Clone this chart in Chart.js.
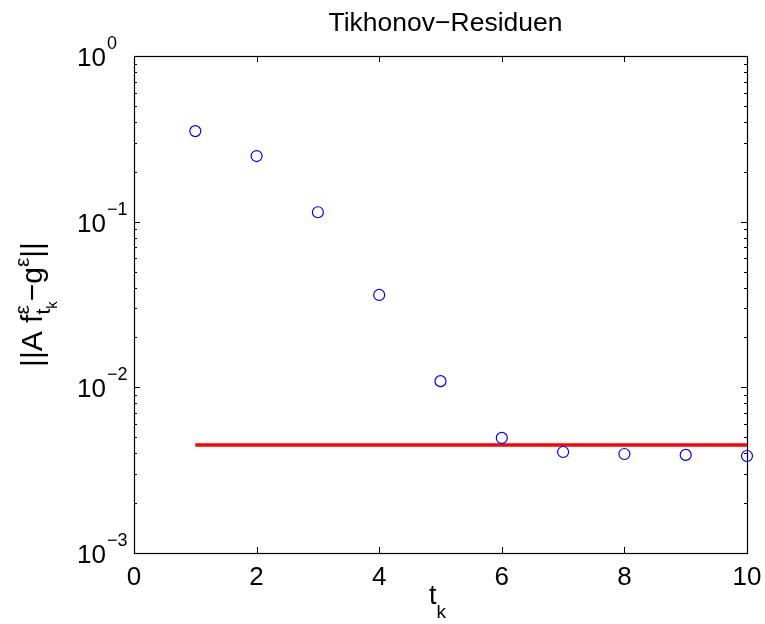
<!DOCTYPE html>
<html>
<head>
<meta charset="utf-8">
<script src="https://cdn.jsdelivr.net/npm/chart.js@4"></script>
<style>
html,body{margin:0;padding:0;background:#fff;}
#wrap{width:765px;height:624px;}
</style>
</head>
<body>
<div id="wrap"><canvas id="c" width="765" height="624"></canvas></div>
<script>
// ---- data ----
const tk = [1, 2, 3, 4, 5, 6, 7, 8, 9, 10];
const residuals = [0.352, 0.249, 0.114, 0.0361, 0.0109, 0.00495, 0.00407, 0.00396, 0.00391, 0.00385];
const noiseLineX = [1, 10];
const noiseLevel = 0.00449;
const xTicks = [0, 2, 4, 6, 8, 10];
const yTickExponents = [-3, -2, -1, 0];
const titleText = 'Tikhonov\u2212Residuen';

const FONT = '"Liberation Sans", Arial, Helvetica, sans-serif';
function f(size){ return size + 'px ' + FONT; }

// draw a run of pieces [{t, size, dy}], with optional stacked groups
function drawPieces(ctx, pieces, x0, y0, align){
  ctx.save();
  const widths = pieces.map(p => {
    if (p.stack) {
      return Math.max(...p.stack.map(run => run.reduce((s, q) => { ctx.font = f(q.size); return s + ctx.measureText(q.t).width; }, 0)));
    }
    ctx.font = f(p.size);
    return ctx.measureText(p.t).width;
  });
  const total = widths.reduce((a, b) => a + b, 0);
  let x = x0;
  if (align === 'center') x = x0 - total / 2;
  else if (align === 'right') x = x0 - total;
  ctx.textAlign = 'left';
  ctx.textBaseline = 'alphabetic';
  pieces.forEach((p, i) => {
    if (p.stack) {
      p.stack.forEach(run => {
        let xx = x;
        run.forEach(q => {
          ctx.font = f(q.size);
          ctx.fillText(q.t, xx, y0 + q.dy);
          xx += ctx.measureText(q.t).width;
        });
      });
    } else {
      ctx.font = f(p.size);
      ctx.fillText(p.t, x, y0 + p.dy);
    }
    x += widths[i];
  });
  ctx.restore();
  return total;
}

const matlabAxes = {
  id: 'matlabAxes',
  beforeDatasetsDraw(chart) {
    const ctx = chart.ctx;
    const a = chart.chartArea;
    const xs = chart.scales.x, ys = chart.scales.y;
    ctx.save();
    ctx.strokeStyle = '#000';
    ctx.lineWidth = 1.2;
    ctx.strokeRect(Math.round(a.left) + 0.5, Math.round(a.top) + 0.5, Math.round(a.right - a.left), Math.round(a.bottom - a.top));
    ctx.lineWidth = 1;
    ctx.beginPath();
    xTicks.forEach(v => {
      const px = Math.round(xs.getPixelForValue(v)) + 0.5;
      ctx.moveTo(px, a.bottom); ctx.lineTo(px, a.bottom - 6);
      ctx.moveTo(px, a.top); ctx.lineTo(px, a.top + 6);
    });
    for (let e = yTickExponents[0]; e <= yTickExponents[yTickExponents.length - 1]; e++) {
      for (let m = 1; m <= 9; m++) {
        if (e === yTickExponents[yTickExponents.length - 1] && m > 1) break;
        const v = m * Math.pow(10, e);
        const py = Math.round(ys.getPixelForValue(v)) + 0.5;
        const len = m === 1 ? 6 : 3;
        ctx.moveTo(a.left, py); ctx.lineTo(a.left + len, py);
        ctx.moveTo(a.right, py); ctx.lineTo(a.right - len, py);
      }
    }
    ctx.stroke();
    ctx.restore();
  },
  afterDraw(chart) {
    const ctx = chart.ctx;
    const a = chart.chartArea;
    const xs = chart.scales.x, ys = chart.scales.y;
    ctx.save();
    ctx.fillStyle = '#000';
    ctx.font = f(26);
    ctx.textAlign = 'center';
    ctx.textBaseline = 'alphabetic';
    xTicks.forEach(v => {
      ctx.fillText(String(v), xs.getPixelForValue(v), a.bottom + 32);
    });
    yTickExponents.forEach(e => {
      const py = ys.getPixelForValue(Math.pow(10, e));
      ctx.font = f(26);
      ctx.textAlign = 'right';
      ctx.fillText('10', 106, py + 10);
      ctx.font = f(18);
      ctx.textAlign = 'left';
      ctx.fillText(e < 0 ? '\u2212' + Math.abs(e) : String(e), 107, py - 7);
    });
    ctx.font = f(26.5);
    ctx.textAlign = 'center';
    ctx.fillText(titleText, (a.left + a.right) / 2 + 5, 31);
    drawPieces(ctx, [
      {t: 't', size: 27, dy: 0},
      {t: 'k', size: 19, dy: 14}
    ], (a.left + a.right) / 2 - 3, 604, 'center');
    ctx.save();
    ctx.translate(42, (a.top + a.bottom) / 2);
    ctx.rotate(-Math.PI / 2);
    drawPieces(ctx, [
      {t: '||A f', size: 30, dy: 0},
      {stack: [
        [{t: '\u03b5', size: 21, dy: -13}],
        [{t: 't', size: 21, dy: 8}, {t: 'k', size: 15, dy: 15}]
      ]},
      {t: '\u2212g', size: 30, dy: 0},
      {t: '\u03b5', size: 21, dy: -13},
      {t: '||', size: 30, dy: 0}
    ], 0, 0, 'center');
    ctx.restore();
    ctx.restore();
  }
};

const residualPoints = tk.map((t, i) => ({x: t, y: residuals[i]}));
const noisePoints = noiseLineX.map(x => ({x: x, y: noiseLevel}));

new Chart(document.getElementById('c'), {
  type: 'scatter',
  data: {
    datasets: [
      {
        label: 'Residuen',
        data: residualPoints,
        showLine: false,
        pointStyle: 'circle',
        pointRadius: 5.5,
        pointBorderWidth: 1.2,
        pointBorderColor: '#0000ff',
        pointBackgroundColor: 'rgba(0,0,0,0)',
        clip: false,
        order: 1
      },
      {
        label: 'delta',
        type: 'line',
        data: noisePoints,
        showLine: true,
        borderColor: '#ff0000',
        borderWidth: 3.5,
        pointRadius: 0,
        fill: false,
        clip: false,
        order: 2
      }
    ]
  },
  options: {
    responsive: false,
    animation: false,
    devicePixelRatio: 1,
    layout: {padding: {left: 134, right: 18, top: 56, bottom: 71}},
    plugins: {legend: {display: false}, tooltip: {enabled: false}, title: {display: false}},
    scales: {
      x: {type: 'linear', min: 0, max: 10, display: false},
      y: {type: 'logarithmic', min: 0.001, max: 1, display: false}
    }
  },
  plugins: [matlabAxes]
});
</script>
</body>
</html>
